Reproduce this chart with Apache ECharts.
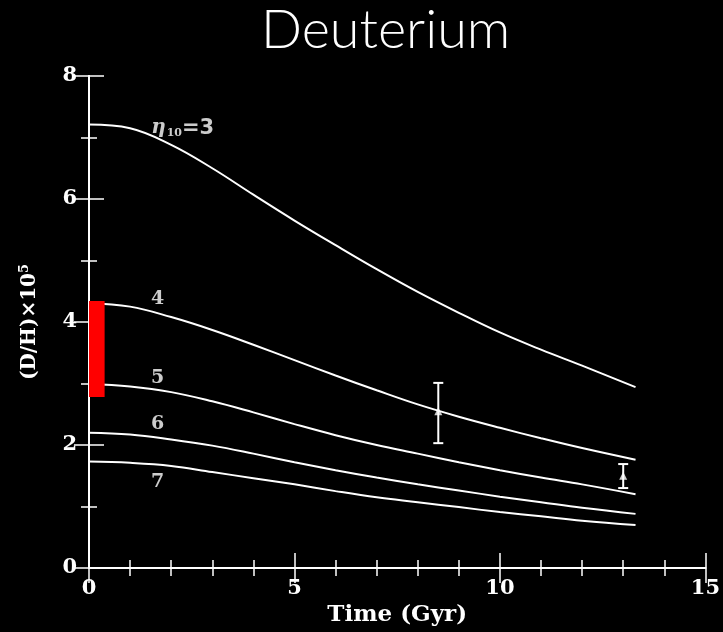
<!DOCTYPE html>
<html>
<head>
<meta charset="utf-8">
<script src="https://cdn.jsdelivr.net/npm/echarts@6/dist/echarts.min.js"></script>
<style>
html,body{margin:0;padding:0;background:#000;}
#chart{width:723px;height:632px;}
</style>
</head>
<body>
<div id="chart"></div>
<script>
// ---- data ----
var timeGyr = [0, 1, 2, 3, 4, 5, 6, 7, 8, 9, 10, 11, 12, 13.3];
var eta3 = [7.21, 7.15, 6.88, 6.50, 6.07, 5.65, 5.25, 4.86, 4.49, 4.15, 3.83, 3.55, 3.29, 2.94];
var eta4 = [4.30, 4.25, 4.08, 3.87, 3.63, 3.38, 3.13, 2.89, 2.66, 2.46, 2.28, 2.11, 1.95, 1.76];
var eta5 = [2.99, 2.95, 2.86, 2.71, 2.53, 2.34, 2.16, 2.00, 1.86, 1.72, 1.59, 1.47, 1.36, 1.20];
var eta6 = [2.20, 2.17, 2.09, 1.99, 1.86, 1.72, 1.59, 1.47, 1.36, 1.26, 1.16, 1.07, 0.98, 0.88];
var eta7 = [1.73, 1.71, 1.66, 1.56, 1.46, 1.36, 1.25, 1.15, 1.07, 0.99, 0.91, 0.84, 0.77, 0.70];
var curveNames = ['η10=3', '4', '5', '6', '7'];
// curve label anchors
var curveLabelX = [2.28, 1.67, 1.67, 1.67, 1.67];
var curveLabelY = [7.15, 4.37, 3.09, 2.34, 1.40];
// observations with error bars
var obsX = [8.5, 13.0];
var obsMid = [2.55, 1.50];
var obsLow = [2.03, 1.30];
var obsHigh = [3.01, 1.69];
// primordial range (red band)
var bandX = [0, 0.38];
var bandY = [2.78, 4.34];
var xTicks = [0, 5, 10, 15];
var yTicks = [0, 2, 4, 6, 8];

function pairs(ys){ return timeGyr.map(function(t,i){ return [t, ys[i]]; }); }

var FONT = 'DejaVu Serif';
var chart = echarts.init(document.getElementById('chart'));

var axLine = {show: true, lineStyle: {color: '#fff', width: 2}};
var axTick = {show: true, inside: true, length: 15, lineStyle: {color: '#fff', width: 1.5}};
var minTick = {show: true, inside: true, length: 8, lineStyle: {color: '#fff', width: 1.5}};

function majorAxis(extra){
  return Object.assign({type: 'value', axisLine: axLine, axisTick: axTick, splitLine: {show: false},
    axisLabel: {show: false}}, extra);
}
function minorAxis(extra){
  return Object.assign({type: 'value', axisLine: {show: false}, axisTick: minTick, splitLine: {show: false},
    axisLabel: {show: false}}, extra);
}

function lineSeries(name, ys){
  return {
    name: name, type: 'line', smooth: 0.4, showSymbol: false,
    data: pairs(ys),
    lineStyle: {color: '#fff', width: 2}, itemStyle: {color: '#fff'},
    z: 3
  };
}

var option = {
  backgroundColor: '#000',
  animation: false,
  title: {
    text: 'Deuterium', left: 256, top: -1,
    textStyle: {color: '#fff', fontFamily: 'Lato', fontWeight: 300, fontSize: 54}
  },
  grid: {left: 89, right: 15, top: 76, bottom: 64},
  xAxis: [
    majorAxis({
      min: 0, max: 15, interval: 5, position: 'bottom',
      name: 'Time (Gyr)', nameLocation: 'middle', nameGap: 36,
      nameTextStyle: {color: '#fff', fontFamily: FONT, fontWeight: 'bold', fontSize: 23},
      axisLabel: {show: true, color: '#fff', fontFamily: FONT, fontWeight: 'bold', fontSize: 21, margin: 10}
    }),
    majorAxis({min: 0, max: 15, interval: 5, position: 'top'}),
    minorAxis({min: 0, max: 15, interval: 1, position: 'bottom'}),
    minorAxis({min: 0, max: 15, interval: 1, position: 'top'})
  ],
  yAxis: [
    majorAxis({
      min: 0, max: 8, interval: 2, position: 'left',
      name: '(D/H)×10{s|5}', nameLocation: 'middle', nameGap: 48, nameRotate: 90,
      nameTextStyle: {color: '#fff', fontFamily: FONT, fontWeight: 'bold', fontSize: 20,
        rich: {s: {color: '#fff', fontFamily: FONT, fontWeight: 'bold', fontSize: 13, verticalAlign: 'top', padding: [0,0,10,0]}}},
      axisLabel: {show: true, color: '#fff', fontFamily: FONT, fontWeight: 'bold', fontSize: 21, margin: 12}
    }),
    majorAxis({min: 0, max: 8, interval: 2, position: 'right'}),
    minorAxis({min: 0, max: 8, interval: 1, position: 'left'}),
    minorAxis({min: 0, max: 8, interval: 1, position: 'right'})
  ],
  series: [
    lineSeries(curveNames[0], eta3),
    lineSeries(curveNames[1], eta4),
    lineSeries(curveNames[2], eta5),
    lineSeries(curveNames[3], eta6),
    lineSeries(curveNames[4], eta7),
    {
      name: 'band', type: 'custom',
      data: [[bandX[0], bandX[1], bandY[0], bandY[1]]],
      renderItem: function(params, api){
        var p0 = api.coord([api.value(0), api.value(3)]);
        var p1 = api.coord([api.value(1), api.value(2)]);
        return {type: 'rect', shape: {x: p0[0], y: p0[1], width: p1[0]-p0[0], height: p1[1]-p0[1]},
          style: {fill: '#ff0000'}};
      },
      z: 5
    },
    {
      name: 'errors', type: 'custom',
      data: obsX.map(function(x,i){ return [x, obsLow[i], obsHigh[i]]; }),
      renderItem: function(params, api){
        var lo = api.coord([api.value(0), api.value(1)]);
        var hi = api.coord([api.value(0), api.value(2)]);
        var w = 5;
        var st = {stroke: '#fff', lineWidth: 2};
        return {type: 'group', children: [
          {type: 'line', shape: {x1: lo[0], y1: lo[1], x2: hi[0], y2: hi[1]}, style: st},
          {type: 'line', shape: {x1: lo[0]-w, y1: lo[1], x2: lo[0]+w, y2: lo[1]}, style: st},
          {type: 'line', shape: {x1: hi[0]-w, y1: hi[1], x2: hi[0]+w, y2: hi[1]}, style: st}
        ]};
      },
      z: 4
    },
    {
      name: 'obs', type: 'scatter', symbol: 'triangle', symbolSize: 8,
      data: obsX.map(function(x,i){ return [x, obsMid[i]]; }),
      itemStyle: {color: '#fff'}, z: 6
    },
    {
      name: 'labels', type: 'scatter', symbolSize: 0, silent: true,
      data: curveLabelX.map(function(x,i){ return [x, curveLabelY[i], i]; }),
      label: {
        show: true, position: 'inside', color: '#fff',
        fontFamily: FONT, fontWeight: 'bold', fontSize: 19,
        formatter: function(p){
          return p.value[2] === 0 ? '{e|η}{s|10}{n|=3}' : curveNames[p.value[2]];
        },
        rich: {
          e: {color: '#fff', fontFamily: FONT, fontStyle: 'italic', fontWeight: 'bold', fontSize: 20},
          s: {color: '#fff', fontFamily: FONT, fontWeight: 'bold', fontSize: 11, verticalAlign: 'bottom', padding: [8,0,0,1]},
          n: {color: '#fff', fontFamily: 'DejaVu Sans', fontWeight: 'bold', fontSize: 21}
        }
      },
      z: 7
    }
  ]
};
chart.setOption(option);
</script>
</body>
</html>
